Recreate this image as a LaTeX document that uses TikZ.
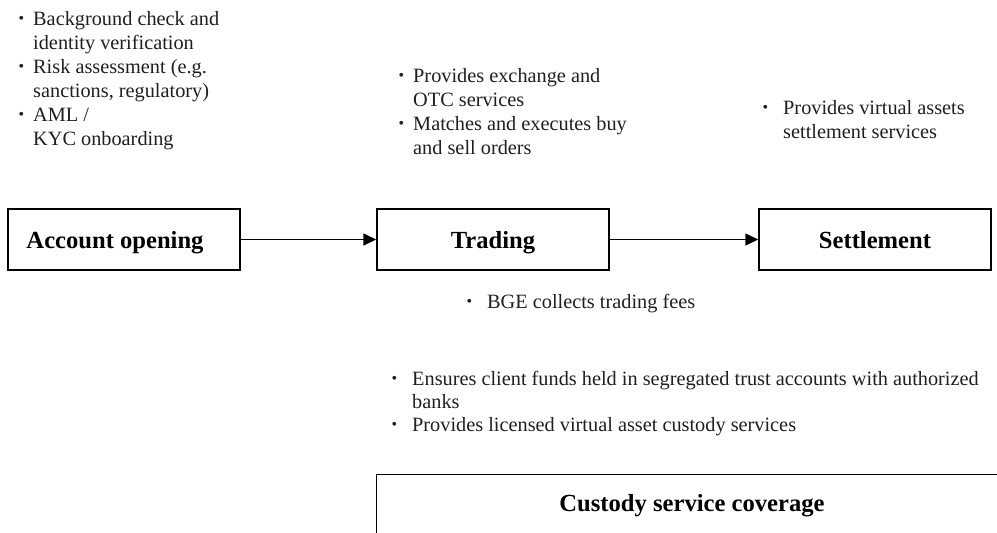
\documentclass[tikz,border=0pt]{standalone}
\usepackage{fontspec}
\setmainfont{Liberation Serif}
\usepackage{graphicx}
\usetikzlibrary{arrows.meta}
\newcommand\bulA{\makebox[0pt][r]{\raisebox{0.06em}{\scalebox{0.78}{\textbullet}}\hspace{9pt}}}
\newcommand\bulB{\makebox[0pt][r]{\raisebox{0.06em}{\scalebox{0.78}{\textbullet}}\hspace{15pt}}}
\tikzset{
  stagebox/.style={draw=black, line width=1.4pt, minimum width=232pt, minimum height=61pt,
    inner sep=0pt, font=\fontsize{24.6}{28}\selectfont\bfseries, text height=18pt, text depth=0pt},
  bullettext/.style={anchor=base west, align=left, inner sep=0pt,
    font=\fontsize{20.3}{24}\selectfont, text=black!88},
  flowarrow/.style={line width=1.4pt, -{Triangle[length=13pt,width=12pt]}},
  boldlabel/.style={anchor=base, inner sep=0pt, font=\fontsize{24.6}{28}\selectfont\bfseries}
}
\begin{document}
\begin{tikzpicture}[x=1pt, y=-1pt]
\useasboundingbox (0,0) rectangle (997,533);
\clip (0,0) rectangle (997,533);
% stage boxes
\node[stagebox] (acct) at (124,239.5) {Account opening\rule{18pt}{0pt}};
\node[stagebox] (trade) at (493,239.5) {Trading};
\node[stagebox] (settle) at (875,239.5) {Settlement};
\draw[flowarrow] (acct.east) -- (trade.west);
\draw[flowarrow] (trade.east) -- (settle.west);
% bullet blocks (anchor = baseline of the last line)
\node[bullettext] (notesacct) at (33,145) {\bulA Background check and\\identity verification\\\bulA Risk assessment (e.g.\\sanctions, regulatory)\\\bulA AML /\\KYC onboarding};
\node[bullettext] (notestrade) at (413,154) {\bulA Provides exchange and\\OTC services\\\bulA Matches and executes buy\\and sell orders};
\node[bullettext] (notessettle) at (783,138) {\bulB Provides virtual assets\\settlement services};
\node[bullettext] (notesfees) at (487,308) {\bulB BGE collects trading fees};
\node[bullettext, font=\fontsize{20.3}{23}\selectfont] (notescustody) at (412,431) {\bulB Ensures client funds held in segregated trust accounts with authorized\\banks\\\bulB Provides licensed virtual asset custody services};
% custody box (cut off at the bottom and right)
\node[draw=black, line width=1.4pt, minimum width=700pt, minimum height=150pt, anchor=north west, inner sep=0pt] (custody) at (376,474) {};
\node[boldlabel] (custodylabel) at (692,511) {Custody service coverage};
\end{tikzpicture}
\end{document}
